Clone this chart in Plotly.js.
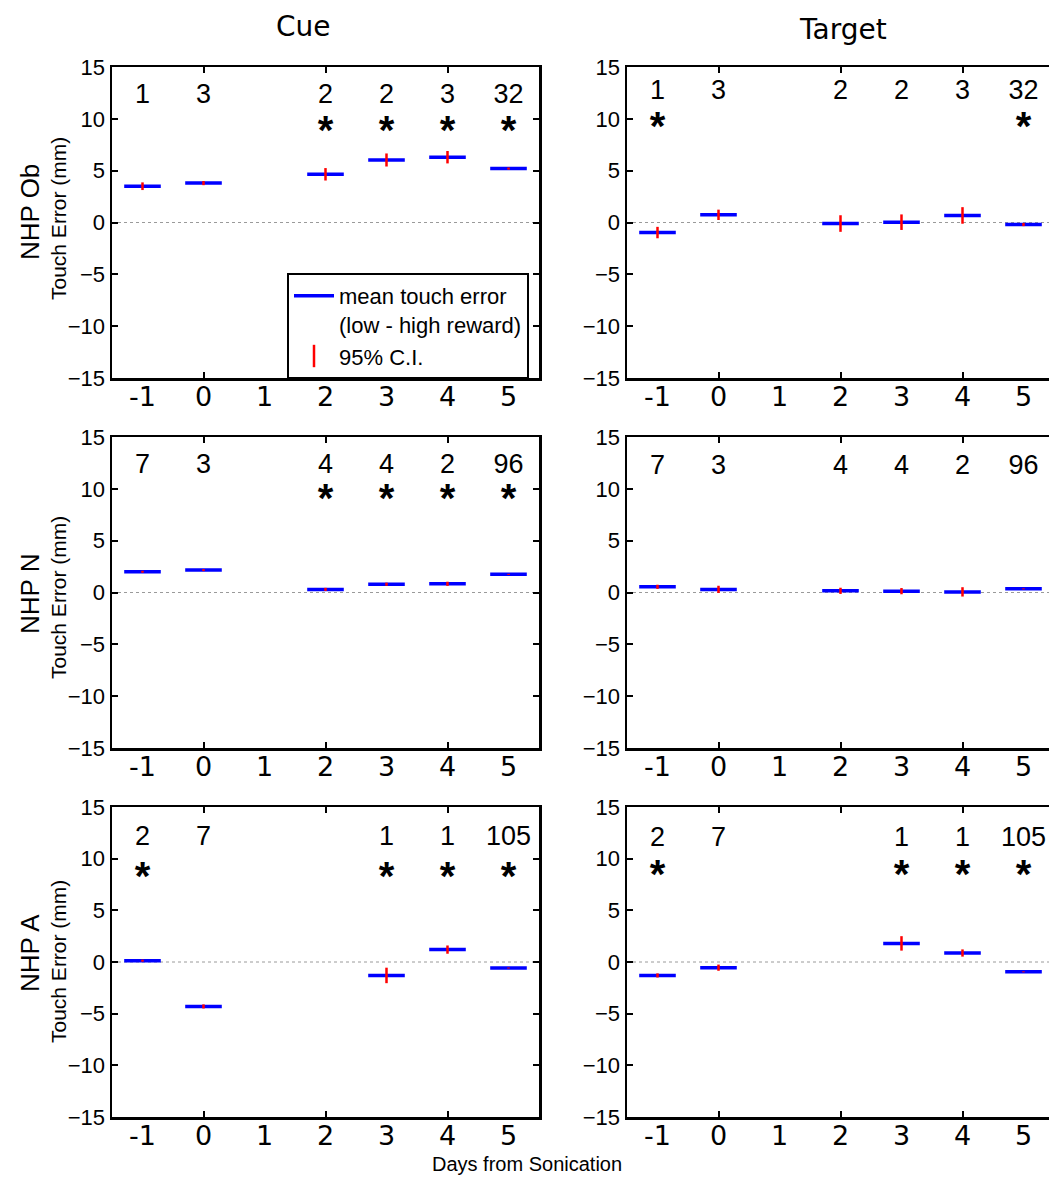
<!DOCTYPE html>
<html>
<head>
<meta charset="utf-8">
<script src="https://cdn.plot.ly/plotly-3.0.1.min.js"></script>
<style>html,body{margin:0;padding:0;background:#fff;overflow:hidden}</style>
</head>
<body>
<div id="chart" style="width:1049px;height:1183px"></div>
<script>
// ---------- data ----------
const dayTicks = [-1, 0, 1, 2, 3, 4, 5];
const dayTickText = ['-1', '0', '1', '2', '3', '4', '5'];
const columnTitles = ['Cue', 'Target'];
const rowNames = ['NHP Ob', 'NHP N', 'NHP A'];

// NHP Ob
const obDays = [-1, 0, 2, 3, 4, 5];
const obCounts = [1, 3, 2, 2, 3, 32];
const obCueMean = [3.5, 3.8, 4.65, 6.03, 6.3, 5.2];
const obCueCI = [0.37, 0.2, 0.6, 0.63, 0.6, 0.1];
const obCueSig = [2, 3, 4, 5];
const obTgtMean = [-0.97, 0.74, -0.1, 0.03, 0.68, -0.2];
const obTgtCI = [0.55, 0.5, 0.8, 0.75, 0.8, 0.15];
const obTgtSig = [-1, 5];

// NHP N
const nDays = [-1, 0, 2, 3, 4, 5];
const nCounts = [7, 3, 4, 4, 2, 96];
const nCueMean = [2.0, 2.16, 0.3, 0.8, 0.84, 1.75];
const nCueCI = [0.1, 0.1, 0.15, 0.15, 0.2, 0.05];
const nCueSig = [2, 3, 4, 5];
const nTgtMean = [0.55, 0.3, 0.16, 0.13, 0.06, 0.35];
const nTgtCI = [0.2, 0.35, 0.3, 0.3, 0.45, 0.05];
const nTgtSig = [];

// NHP A
const aDays = [-1, 0, 3, 4, 5];
const aCounts = [2, 7, 1, 1, 105];
const aCueMean = [0.13, -4.3, -1.3, 1.2, -0.58];
const aCueCI = [0.1, 0.2, 0.75, 0.4, 0.05];
const aCueSig = [-1, 3, 4, 5];
const aTgtMean = [-1.3, -0.55, 1.8, 0.87, -0.95];
const aTgtCI = [0.2, 0.3, 0.7, 0.35, 0.05];
const aTgtSig = [-1, 3, 4, 5];

const panels = [
  {days: obDays, counts: obCounts, mean: obCueMean, ci: obCueCI, sig: obCueSig},
  {days: obDays, counts: obCounts, mean: obTgtMean, ci: obTgtCI, sig: obTgtSig},
  {days: nDays, counts: nCounts, mean: nCueMean, ci: nCueCI, sig: nCueSig},
  {days: nDays, counts: nCounts, mean: nTgtMean, ci: nTgtCI, sig: nTgtSig},
  {days: aDays, counts: aCounts, mean: aCueMean, ci: aCueCI, sig: aCueSig},
  {days: aDays, counts: aCounts, mean: aTgtMean, ci: aTgtCI, sig: aTgtSig}
];

// ---------- style / layout ----------
const W = 1049, H = 1183;
const SANS = 'Arial, "Liberation Sans", sans-serif';
const TAH = '"DejaVu Sans", Verdana, sans-serif';
const BLUE = '#0000ff', RED = '#ff0000';
const colX = [[112, 539], [627, 1049]];
const colRange = [[-1.5, 5.5], [-1.5, -1.5 + (1049 - 627) / 61]];
const rowY = [[67, 378], [437, 748], [807, 1117]];
const countLevel = [12.2, 12.6, 12.2, 12.1, 12.0, 11.9];
const starLevel = [8.5, 8.9, 8.7, 8.7, 7.9, 8.1];
const halfWidth = 0.3;

const px = v => v / W;
const py = v => 1 - v / H;

const traces = [];
const layout = {
  width: W, height: H,
  margin: {l: 0, r: 0, t: 0, b: 0},
  paper_bgcolor: '#fff', plot_bgcolor: '#fff',
  hovermode: false,
  font: {family: SANS, color: '#000'},
  shapes: [], annotations: [],
  legend: {
    x: px(529), xanchor: 'right', y: py(273), yanchor: 'top',
    bgcolor: '#fff', bordercolor: '#000', borderwidth: 2,
    font: {size: 22, family: SANS, color: '#000'},
    itemwidth: 40, valign: 'top', tracegroupgap: 0
  }
};

panels.forEach((p, k) => {
  const i = k + 1;
  const col = k % 2, row = Math.floor(k / 2);
  const sfx = i === 1 ? '' : String(i);
  const xa = 'x' + sfx, ya = 'y' + sfx;
  const xo = 'x' + (6 + i);
  // mean segments (blue)
  traces.push({
    type: 'scatter', mode: 'markers', x: p.days, y: p.mean, xaxis: xa, yaxis: ya,
    marker: {size: 2, color: 'rgba(0,0,0,0)'},
    error_x: {type: 'constant', value: halfWidth, color: BLUE, thickness: 3.5, width: 0},
    showlegend: false, hoverinfo: 'skip'
  });
  // CI (red)
  traces.push({
    type: 'scatter', mode: 'markers', x: p.days, y: p.mean, xaxis: xa, yaxis: ya,
    marker: {size: 2, color: 'rgba(0,0,0,0)'},
    error_y: {type: 'data', array: p.ci, symmetric: true, color: RED, thickness: 2.5, width: 0},
    showlegend: false, hoverinfo: 'skip'
  });
  // counts (on the labelled overlay axis, same range)
  traces.push({
    type: 'scatter', mode: 'text', x: p.days, y: p.days.map(() => countLevel[k]),
    text: p.counts.map(String), textposition: 'middle center',
    textfont: {size: 27, family: SANS, color: '#000'},
    xaxis: xo, yaxis: ya, showlegend: false, hoverinfo: 'skip', cliponaxis: false
  });
  // significance stars
  if (p.sig.length) {
    traces.push({
      type: 'scatter', mode: 'text', x: p.sig, y: p.sig.map(() => starLevel[k]),
      text: p.sig.map(() => '*'), textposition: 'middle center',
      textfont: {size: 40, family: SANS, color: '#000', weight: 'bold'},
      xaxis: xo, yaxis: ya, showlegend: false, hoverinfo: 'skip', cliponaxis: false
    });
  }
  const dom = [px(colX[col][0]), px(colX[col][1])];
  layout['xaxis' + sfx] = {
    domain: dom, range: colRange[col], anchor: ya,
    tickvals: [0, 2, 4], ticks: 'inside', ticklen: 6, tickwidth: 2, tickcolor: '#000',
    showticklabels: false, showline: true, linewidth: 2.5, linecolor: '#000',
    mirror: 'ticks', showgrid: false, zeroline: false, fixedrange: true
  };
  layout['xaxis' + (6 + i)] = {
    domain: dom, range: colRange[col], anchor: ya, overlaying: xa, side: 'bottom',
    tickvals: dayTicks, ticktext: dayTickText, ticks: '', showticklabels: true,
    tickfont: {size: 27, family: TAH, color: '#000'}, ticklabelstandoff: 0,
    showline: false, showgrid: false, zeroline: false, fixedrange: true
  };
  layout['yaxis' + sfx] = {
    domain: [py(rowY[row][1]), py(rowY[row][0])], range: [-15, 15], anchor: xa,
    tickvals: [-15, -10, -5, 0, 5, 10, 15], ticks: 'inside', ticklen: 6, tickwidth: 2,
    tickcolor: '#000', tickfont: {size: 22, family: SANS, color: '#000'},
    showline: true, linewidth: 2.5, linecolor: '#000',
    mirror: col === 0 ? 'ticks' : false, showgrid: false, zeroline: false, fixedrange: true
  };
  layout.shapes.push({
    type: 'line', xref: xa + ' domain', yref: ya, x0: 0, x1: 1, y0: 0, y1: 0,
    line: {color: '#9a9a9a', width: 1, dash: 'dot'}, layer: 'below'
  });
});

// legend-only entries
traces.push({
  type: 'scatter', mode: 'lines', x: [null], y: [null], xaxis: 'x', yaxis: 'y',
  line: {color: BLUE, width: 3.5}, name: 'mean touch error<br>(low - high reward)', hoverinfo: 'skip'
});
traces.push({
  type: 'scatter', mode: 'markers', x: [null], y: [null], xaxis: 'x', yaxis: 'y',
  marker: {symbol: 'line-ns', size: 16, color: RED, line: {color: RED, width: 2.5}},
  name: '95% C.I.', hoverinfo: 'skip'
});

// titles
const ann = (text, x, y, size, family, angle) => ({
  text, x: px(x), y: py(y), xref: 'paper', yref: 'paper', showarrow: false,
  xanchor: 'center', yanchor: 'middle', textangle: angle || 0,
  font: {size, family, color: '#000'}
});
layout.annotations.push(
  ann(columnTitles[0], 303, 26, 28, TAH),
  ann(columnTitles[1], 843, 30, 28, TAH),
  ann('Days from Sonication', 527, 1164, 20, SANS)
);
const rowLabelY = [212, 594, 953];
const rowSubY = [219, 598, 962];
rowNames.forEach((name, r) => {
  layout.annotations.push(
    ann(name, 30, rowLabelY[r], 26, SANS, -90),
    ann('Touch Error (mm)', 58, rowSubY[r], 21, SANS, -90)
  );
});

Plotly.newPlot('chart', traces, layout, {displayModeBar: false, staticPlot: true});
</script>
</body>
</html>
